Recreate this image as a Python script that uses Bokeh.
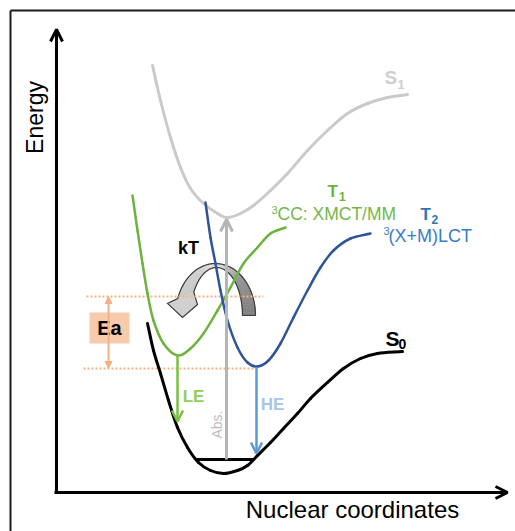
import numpy as np
from bokeh.plotting import figure
from bokeh.models import Range1d, Arrow, OpenHead, NormalHead
from bokeh.core.properties import value
from bokeh.embed import file_html
from bokeh.resources import INLINE

# ---- potential energy curves (nuclear coordinate q, energy e; screen units, e grows downward)
s1_q = [152, 160, 170, 180, 190, 203, 217, 227, 240, 253, 270, 287, 307, 327, 347, 367, 387, 407]
s1_e = [65, 100, 137, 167, 188, 203, 213, 217, 213, 205, 190, 173, 150, 130, 113, 103, 97, 94]

t1_q = [132, 137, 142, 147, 153, 163, 177, 190, 203, 217, 230, 243, 257, 270, 285]
t1_e = [195, 230, 263, 293, 320, 343, 355, 348, 333, 310, 287, 263, 247, 233, 227]

t2_q = [205, 210, 215, 220, 227, 237, 247, 257, 268, 280, 293, 307, 320, 333, 350, 370]
t2_e = [202, 237, 263, 290, 320, 347, 362, 366, 360, 343, 317, 290, 267, 250, 238, 233]

s0_q = [147, 153, 160, 168, 177, 187, 198, 210, 223, 237, 247, 257, 270, 283, 297, 310, 327, 343, 360, 377, 402]
s0_e = [323, 350, 373, 400, 427, 447, 462, 470, 473, 470, 465, 455, 442, 428, 413, 398, 382, 368, 358, 353, 351]

# lowest vibrational level of S0
v0_q = [196, 253]
v0_e = 459

# vertical transitions: absorption, low-energy and high-energy emission
abs_q, abs_e = 226, [459, 219]
le_q, le_e = 177, [355, 421]
he_q, he_e = 256, [367, 453]

# activation energy: barrier level and T2 minimum
ea_levels = [296, 368]
ea_extent = [[86, 263], [83, 255]]

# ---- text
energy_label = "Energy"
coord_label = "Nuclear coordinates"

FONT = value("Liberation Sans")

p = figure(width=515, height=531, x_range=Range1d(0, 515), y_range=Range1d(531, 0),
           output_backend="svg", toolbar_location=None, min_border=0,
           x_axis_location=None, y_axis_location=None)
p.grid.visible = False
p.outline_line_color = None
p.background_fill_color = "white"
p.border_fill_color = "white"


def smooth_curve(q, e, color, width):
    """Draw a smooth curve through the sampled points as Catmull-Rom cubic Bezier pieces."""
    q = np.asarray(q, float)
    e = np.asarray(e, float)
    qp = np.concatenate([[2 * q[0] - q[1]], q, [2 * q[-1] - q[-2]]])
    ep = np.concatenate([[2 * e[0] - e[1]], e, [2 * e[-1] - e[-2]]])
    x0, y0 = qp[1:-2], ep[1:-2]
    x1, y1 = qp[2:-1], ep[2:-1]
    cx0 = x0 + (qp[2:-1] - qp[:-3]) / 6
    cy0 = y0 + (ep[2:-1] - ep[:-3]) / 6
    cx1 = x1 - (qp[3:] - qp[1:-2]) / 6
    cy1 = y1 - (ep[3:] - ep[1:-2]) / 6
    p.bezier(x0=x0, y0=y0, x1=x1, y1=y1, cx0=cx0, cy0=cy0, cx1=cx1, cy1=cy1,
             line_color=color, line_width=width, line_cap="round")


# frame
p.line([10, 515], [10, 10], line_color="#1a1a1a", line_width=2)
p.line([10, 10], [10, 531], line_color="#1a1a1a", line_width=2)

# ---- kT curved arrow (thermal back-transfer)
def ellipse_pts(cx, cy, rx, ry, deg):
    t = np.radians(deg)
    return cx + rx * np.cos(t), cy - ry * np.sin(t)

N = 48
to = np.linspace(0, 161, N + 1)
ti = np.linspace(0, 151, N + 1)
ox, oy = ellipse_pts(215, 315, 40, 52, to)
ix, iy = ellipse_pts(216, 315, 26, 48, ti)

def shade(f):
    stops = [(0.0, 128), (0.3, 150), (0.5, 215), (0.58, 225), (0.75, 208), (1.0, 200)]
    for (f0, g0), (f1, g1) in zip(stops[:-1], stops[1:]):
        if f0 <= f <= f1:
            g = g0 + (g1 - g0) * (f - f0) / (f1 - f0)
            return "#%02x%02x%02x" % (int(g), int(g), int(g))
    return "#c8c8c8"

xs, ys, cs = [], [], []
for i in range(N):
    xs.append([ox[i], ox[i + 1], ix[i + 1], ix[i]])
    ys.append([oy[i], oy[i + 1], iy[i + 1], iy[i]])
    cs.append(shade(i / N))
p.patches(xs, ys, fill_color=cs, line_color=cs, line_width=0.6)

head_x = [ox[-1], 167, 182, 197, ix[-1]]
head_y = [oy[-1], 303, 317, 304, iy[-1]]
p.patch(head_x, head_y, fill_color="#d0d0d0", line_color=None)

outline_x = list(ox) + head_x[1:4] + list(ix[::-1]) + [ox[0]]
outline_y = list(oy) + head_y[1:4] + list(iy[::-1]) + [oy[0]]
p.line(outline_x, outline_y, line_color="#3c3c3c", line_width=1.2, line_join="miter")

# ---- activation energy markers
for lvl, (xa, xb) in zip(ea_levels, ea_extent):
    p.line([xa, xb], [lvl, lvl], line_color="#f4b183", line_width=2, line_dash="2 2")
p.add_layout(Arrow(start=NormalHead(size=7, fill_color="#f4b183", line_color="#f4b183"),
                   end=NormalHead(size=7, fill_color="#f4b183", line_color="#f4b183"),
                   x_start=108, y_start=ea_levels[0], x_end=108, y_end=ea_levels[1],
                   line_color="#f4b183", line_width=2))
p.quad(left=89, right=129, top=312, bottom=343, fill_color="#f8cbad", line_color=None)

# ---- curves
smooth_curve(s1_q, s1_e, "#cacaca", 3)

# absorption arrow
p.add_layout(Arrow(end=OpenHead(size=12, line_color="#b5b5b5", line_width=3),
                   x_start=abs_q, y_start=abs_e[0], x_end=abs_q, y_end=abs_e[1],
                   line_color="#b5b5b5", line_width=3))

smooth_curve(t1_q, t1_e, "#6cb33f", 2.5)
smooth_curve(t2_q, t2_e, "#2f5597", 2.5)
smooth_curve(s0_q, s0_e, "black", 3)
p.line(v0_q, [v0_e, v0_e], line_color="black", line_width=3)

p.add_layout(Arrow(end=OpenHead(size=11, line_color="#7ac143", line_width=2.5),
                   x_start=le_q, y_start=le_e[0], x_end=le_q, y_end=le_e[1],
                   line_color="#7ac143", line_width=2.5))
p.add_layout(Arrow(end=OpenHead(size=11, line_color="#5b9bd5", line_width=2.5),
                   x_start=he_q, y_start=he_e[0], x_end=he_q, y_end=he_e[1],
                   line_color="#5b9bd5", line_width=2.5))

# ---- axes
p.add_layout(Arrow(end=OpenHead(size=12, line_color="black", line_width=3),
                   x_start=56, y_start=492, x_end=56, y_end=29,
                   line_color="black", line_width=3))
p.add_layout(Arrow(end=OpenHead(size=12, line_color="black", line_width=3),
                   x_start=54, y_start=492, x_end=507, y_end=492,
                   line_color="black", line_width=3))

# ---- labels (positioned at the middle of the capital height)
def label(x, y, txt, size, color, bold=False, align="left", angle=0.0):
    p.text(x=[x], y=[y], text=[txt], text_font=FONT, text_font_size=f"{size}px",
           text_font_style="bold" if bold else "normal", text_color=color,
           text_align=align, text_baseline="middle", angle=angle)

label(34.5, 117, energy_label, 23, "black", align="center", angle=np.pi / 2)
label(352, 509, coord_label, 24, "black", align="center")

label(384, 76.5, "S", 19, "#cfcfcf", bold=True)
label(397, 84, "1", 13, "#cfcfcf", bold=True)
label(385, 337.5, "S", 21, "black", bold=True)
label(398, 343.5, "0", 14, "black", bold=True)

label(327, 191, "T", 17, "#6cb33f", bold=True)
label(338.5, 196, "1", 12, "#6cb33f", bold=True)
label(271, 209, "3", 11, "#74b749")
label(277, 213.5, "CC: XMCT/MM", 17.5, "#74b749")

label(420, 214, "T", 17, "#2e75b6", bold=True)
label(431, 219, "2", 12, "#2e75b6", bold=True)
label(383, 230, "3", 11, "#3a7dc5")
label(388, 235.5, "(X+M)LCT", 18, "#3a7dc5")

label(188, 247.5, "kT", 18, "black", bold=True, align="center")
label(193, 396, "LE", 17, "#92d050", bold=True, align="center")
label(272, 404, "HE", 17, "#a4c6ea", bold=True, align="center")
label(216, 424, "Abs.", 14, "#bdbdbd", align="center", angle=np.pi / 2)
label(109, 327.5, "Ea", 20, "black", bold=True, align="center")

open("out.html", "w").write(file_html(p, INLINE))
